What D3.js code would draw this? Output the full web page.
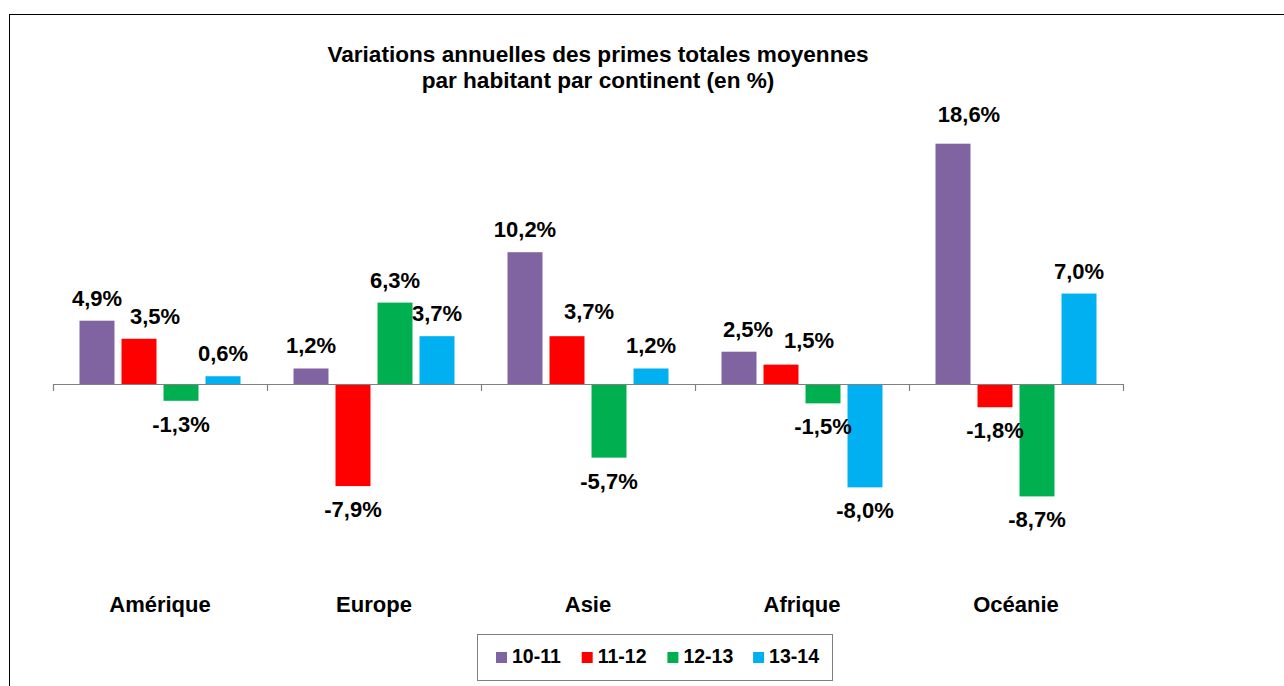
<!DOCTYPE html>
<html>
<head>
<meta charset="utf-8">
<title>Variations annuelles des primes</title>
<script src="https://d3js.org/d3.v7.min.js"></script>
<style>
  body { margin: 0; background: #fff; }
  svg { display: block; font-family: "Liberation Sans", Arial, sans-serif; }
  text { font-weight: bold; fill: #000; }
</style>
</head>
<body>
<svg></svg>
<script>
// données
const continents = ['Amérique', 'Europe', 'Asie', 'Afrique', 'Océanie'];
const series = ['10-11', '11-12', '12-13', '13-14'];
const v1011 = [4.9, 1.2, 10.2, 2.5, 18.6];
const v1112 = [3.5, -7.9, 3.7, 1.5, -1.8];
const v1213 = [-1.3, 6.3, -5.7, -1.5, -8.7];
const v1314 = [0.6, 3.7, 1.2, -8.0, 7.0];

const colors = ['#8064A2', '#FF0000', '#00B050', '#00B0F0'];
// petits décalages des étiquettes (dx, dy) déplacées à la main
const labelNudge = {
  'Amérique|11-12': [16, 0],
  'Asie|11-12': [22, -2],
  'Afrique|10-11': [9, 0],
  'Afrique|11-12': [28, -2],
  'Océanie|10-11': [16, -7]
};

const width = 1284, height = 686;
const svg = d3.select('svg').attr('width', width).attr('height', height);

// cadre
svg.append('rect').attr('x', 9.5).attr('y', 14.5).attr('width', 1290).attr('height', 700)
  .attr('fill', 'none').attr('stroke', '#000').attr('stroke-width', 1);

// titre
const title = svg.append('text').attr('text-anchor', 'middle').attr('font-size', 22.6);
title.append('tspan').attr('x', 598).attr('y', 62).text('Variations annuelles des primes totales moyennes');
title.append('tspan').attr('x', 598).attr('y', 88).text('par habitant par continent (en %)');

const allValues = [v1011, v1112, v1213, v1314];
const data = [];
continents.forEach((c, i) => {
  series.forEach((s, j) => {
    data.push({ continent: c, serie: s, value: allValues[j][i], color: colors[j] });
  });
});

const x0 = d3.scaleBand().domain(continents).range([53, 1123]);
const x1 = d3.scaleBand().domain(series).range([0, x0.bandwidth()])
  .paddingInner(0.167).paddingOuter(0.631);
const y = d3.scaleLinear().domain([-10, 20]).range([513.2, 125.6]);

// barres
svg.append('g').selectAll('rect').data(data).enter().append('rect')
  .attr('x', d => x0(d.continent) + x1(d.serie))
  .attr('width', x1.bandwidth())
  .attr('y', d => y(Math.max(0, d.value)))
  .attr('height', d => Math.abs(y(d.value) - y(0)))
  .attr('fill', d => d.color);

// axe horizontal avec graduations aux limites des catégories
const xEdge = d3.scaleLinear().domain([0, continents.length]).range([53, 1123]);
const axis = svg.append('g').attr('transform', 'translate(0,' + y(0) + ')')
  .call(d3.axisBottom(xEdge).tickValues(d3.range(continents.length + 1))
    .tickSize(7).tickSizeOuter(0).tickFormat(''));
axis.selectAll('path, line').attr('stroke', '#808080').attr('stroke-width', 1.2);

// étiquettes de valeur
svg.append('g').selectAll('text').data(data).enter().append('text')
  .attr('text-anchor', 'middle').attr('font-size', 22)
  .attr('x', d => {
    const n = labelNudge[d.continent + '|' + d.serie] || [0, 0];
    return x0(d.continent) + x1(d.serie) + x1.bandwidth() / 2 + n[0];
  })
  .attr('y', d => {
    const n = labelNudge[d.continent + '|' + d.serie] || [0, 0];
    return (d.value >= 0 ? y(d.value) - 15 : y(d.value) + 31) + n[1];
  })
  .text(d => d.value.toFixed(1).replace('.', ',') + '%');

// noms des continents
svg.append('g').selectAll('text').data(continents).enter().append('text')
  .attr('text-anchor', 'middle').attr('font-size', 22)
  .attr('x', d => x0(d) + x0.bandwidth() / 2)
  .attr('y', 612)
  .text(d => d);

// légende
const legend = svg.append('g').attr('transform', 'translate(477,634)');
legend.append('rect').attr('x', 0.5).attr('y', 0.5).attr('width', 355).attr('height', 46)
  .attr('fill', '#fff').attr('stroke', '#808080').attr('stroke-width', 1);
const item = legend.selectAll('g').data(series).enter().append('g')
  .attr('transform', (d, i) => 'translate(' + (19 + i * 85.7) + ',0)');
item.append('rect').attr('x', 0).attr('y', 18).attr('width', 11).attr('height', 11)
  .attr('fill', (d, i) => colors[i]);
item.append('text').attr('x', 16).attr('y', 29).attr('font-size', 19.5).text(d => d);
</script>
</body>
</html>
